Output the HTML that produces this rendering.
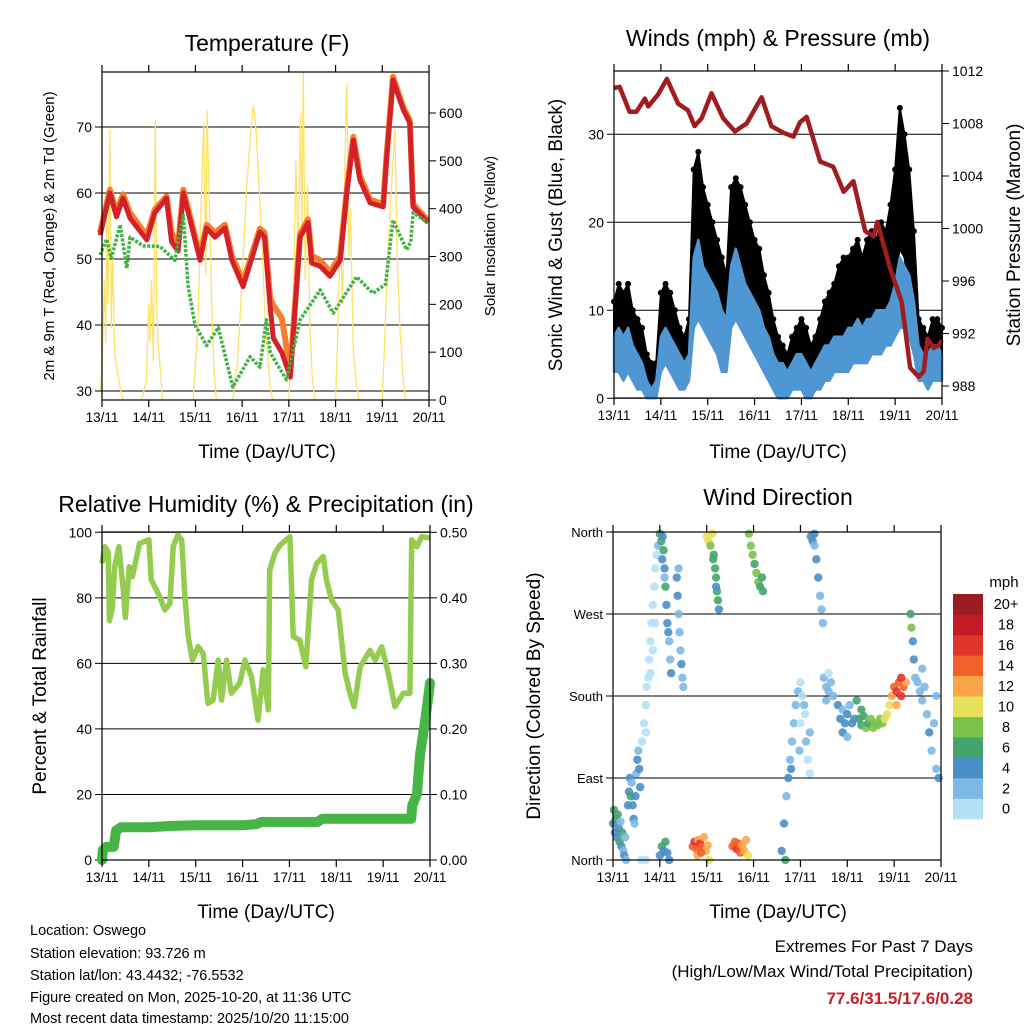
<!DOCTYPE html>
<html><head><meta charset="utf-8"><title>Station Meteogram</title>
<style>
html,body{margin:0;padding:0;background:#fff;}
svg{display:block;font-family:"Liberation Sans",Arial,sans-serif;}
</style></head>
<body>
<svg id="chart" width="1024" height="1024" viewBox="0 0 1024 1024" xmlns="http://www.w3.org/2000/svg">
<rect x="0" y="0" width="1024" height="1024" fill="#fff"/>
<!-- titles -->
<text x="267" y="51" font-size="23" text-anchor="middle">Temperature (F)</text>
<text x="778" y="46" font-size="23" text-anchor="middle">Winds (mph) &amp; Pressure (mb)</text>
<text x="266" y="512" font-size="23" text-anchor="middle">Relative Humidity (%) &amp; Precipitation (in)</text>
<text x="778" y="505" font-size="23" text-anchor="middle">Wind Direction</text>
<!-- axis titles -->
<text transform="translate(54,236) rotate(-90)" font-size="15" text-anchor="middle">2m &amp; 9m T (Red, Orange) &amp; 2m Td (Green)</text>
<text transform="translate(495,236) rotate(-90)" font-size="15" text-anchor="middle">Solar Insolation (Yellow)</text>
<text transform="translate(562,235) rotate(-90)" font-size="19" text-anchor="middle">Sonic Wind &amp; Gust (Blue, Black)</text>
<text transform="translate(1020,235) rotate(-90)" font-size="19" text-anchor="middle">Station Pressure (Maroon)</text>
<text transform="translate(46,696) rotate(-90)" font-size="19" text-anchor="middle">Percent &amp; Total Rainfall</text>
<text transform="translate(540,696) rotate(-90)" font-size="19" text-anchor="middle">Direction (Colored By Speed)</text>
<text x="267" y="458" font-size="19" text-anchor="middle">Time (Day/UTC)</text>
<text x="778" y="458" font-size="19" text-anchor="middle">Time (Day/UTC)</text>
<text x="266" y="918" font-size="19" text-anchor="middle">Time (Day/UTC)</text>
<text x="778" y="918" font-size="19" text-anchor="middle">Time (Day/UTC)</text>
<!-- footer -->
<g font-size="14.5">
<text x="30" y="935">Location: Oswego</text>
<text x="30" y="958">Station elevation: 93.726 m</text>
<text x="30" y="980">Station lat/lon: 43.4432; -76.5532</text>
<text x="30" y="1002">Figure created on Mon, 2025-10-20, at 11:36 UTC</text>
<text x="30" y="1023">Most recent data timestamp: 2025/10/20 11:15:00</text>
</g>
<text x="973" y="952" font-size="17" text-anchor="end">Extremes For Past 7 Days</text>
<text x="973" y="977" font-size="17" text-anchor="end">(High/Low/Max Wind/Total Precipitation)</text>
<text x="973" y="1004" font-size="17" font-weight="bold" fill="#c8202a" text-anchor="end">77.6/31.5/17.6/0.28</text>
<text x="1004" y="587" font-size="15" text-anchor="middle">mph</text>
</svg>
<script>
// ---------- data ----------
const dayLabels = ["13/11","14/11","15/11","16/11","17/11","18/11","19/11","20/11"];
const tempTicks = [30,40,50,60,70];
const solarTicks = [0,100,200,300,400,500,600];
const windTicks = [0,10,20,30];
const pressTicks = [988,992,996,1000,1004,1008,1012];
const rhTicks = [0,20,40,60,80,100];
const rainTicks = ["0.00","0.10","0.20","0.30","0.40","0.50"];
const dirLabels = ["North","East","South","West","North"];
const speedLabels = ["0","2","4","6","8","10","12","14","16","18","20+"];
const speedColors = ["#b4e1f6","#7db9e4","#4a8ec6","#44a56c","#7cc24a","#e6e05a","#f9a74a","#f1622a","#e0352a","#c21b26","#9b1c20"];

const tempT = [12.96,13.17,13.31,13.45,13.6,13.96,14.13,14.38,14.49,14.63,14.74,15.1,15.24,15.42,15.63,15.78,16.02,16.38,16.48,16.6,16.67,16.85,17.03,17.24,17.41,17.49,17.67,17.88,18.1,18.24,18.38,18.52,18.74,19.02,19.09,19.23,19.45,19.59,19.66,19.98];
const temp2m = [53.6,60,56.4,59.2,56.2,52.9,57,59.2,52.6,51.2,60,49.8,54.7,53.3,54.7,49.8,45.8,54.1,53.3,42.7,38,35.8,32.1,53.3,55.5,49.4,48.9,47.4,49.8,60,68,62,58.5,57.9,65,77.1,72.6,70.6,57.9,55.5];
const temp9m = [54,60.5,57,59.8,57,53.5,57.5,59.5,54,52,60.5,50.5,55.2,54,55.2,50.5,46.5,54.6,54,44,43,41,33,53.8,56,50.5,49.8,48,50.5,60.5,68.5,62.6,59,58.3,65.5,77.6,73,71,58.3,55.8];
const dewT = [12.96,13.1,13.2,13.39,13.53,13.6,13.88,14.24,14.56,14.74,14.84,14.99,15.24,15.49,15.8,16.17,16.38,16.52,16.6,16.95,17.24,17.67,17.95,18.45,18.8,19.07,19.23,19.52,19.61,19.66,19.98];
const dewV = [50.6,53,50.1,55.2,48.6,53.3,52,51.9,49.8,56.6,46,40,36.9,39.6,30.6,35.2,33.6,40.8,35.8,31.7,40.8,45.3,41.8,47.3,44.8,46.2,55.9,51.4,52.6,57,55.5];
const solarT = [12.96,13.0,13.05,13.08,13.1,13.13,13.17,13.2,13.23,13.27,13.33,13.4,13.45,null,13.85,13.95,14.0,14.03,14.06,14.1,14.14,14.17,14.2,14.25,14.3,null,14.95,15.05,15.12,15.18,15.22,15.25,15.3,15.35,15.4,15.45,null,15.8,15.9,16.0,16.1,16.2,16.24,16.3,16.4,16.5,16.6,16.65,null,17.0,17.1,17.15,17.2,17.25,17.28,17.31,17.35,17.4,17.45,17.5,17.55,null,18.0,18.05,18.1,18.15,18.2,18.24,18.28,18.32,18.38,18.45,18.5,null,19.0,19.05,19.12,19.2,19.27,19.32,19.38,19.45,19.5];
const solarV = [20,60,250,120,380,200,565,150,300,100,60,20,0,null,0,40,200,120,250,80,585,200,120,60,0,null,0,150,400,580,260,606,400,200,60,0,null,0,80,250,450,580,617,560,380,150,30,0,null,0,200,500,300,600,350,687,250,450,150,50,0,null,0,150,350,200,500,660,300,400,100,30,0,null,0,120,300,450,565,300,150,40,0];

const windT = [];
for (let i = 0; i <= 70; i++) windT.push(13 + i / 10); // time grid (0.1 day steps)
const gustHi = [11,13,12,13,10,9,8,5,4,4,12,13,12,10,8,7,9,26,28,24,22,20,18,16,14,24,25,24,22,20,18,17,14,12,9,7,6,5,7,8,9,8,6,7,9,11,12,13,15,16,16,17,18,16,18,19,18,20,19,22,26,33,30,26,19,9,8,7,9,9,8];
const gustLo = [6,6,5,6,4,3,3,1,0,0,4,6,6,4,3,3,4,12,14,13,12,10,9,6,5,12,13,12,11,10,8,7,6,4,3,2,1,1,2,3,2,2,1,2,3,4,5,6,6,7,7,8,8,8,9,9,10,10,10,11,14,17,16,12,8,4,3,3,4,4,4];
const windHi = [7,8,7,8,6,5,4,2,1,2,7,8,7,6,5,4,5,16,18,15,14,13,12,10,9,15,17,15,13,12,11,10,8,7,5,4,4,3,4,5,5,4,3,4,5,6,6,7,7,7,8,8,9,8,9,9,10,10,10,11,13,16,15,14,11,6,5,5,6,6,5];
const windLo = [3,3,2,3,2,1,1,0,0,0,3,4,3,2,1,1,2,8,9,8,7,6,5,3,3,8,9,8,7,6,5,4,3,2,1,0,0,0,1,1,1,0,0,1,1,2,2,3,3,3,3,4,4,4,4,5,5,5,6,6,7,8,8,7,5,2,2,1,2,2,2];
const pressT = [13.0,13.12,13.33,13.48,13.66,13.73,13.94,14.13,14.37,14.58,14.72,14.87,15.08,15.33,15.58,15.83,16.15,16.36,16.61,16.83,16.97,17.11,17.4,17.68,17.9,18.11,18.36,18.54,18.62,18.89,19.14,19.32,19.5,19.61,19.69,19.82,19.93,20.0];
const pressV = [1010.7,1010.8,1008.9,1008.9,1009.9,1009.3,1010.2,1011.4,1009.5,1009.0,1007.8,1008.4,1010.3,1008.4,1007.4,1008,1010,1007.8,1007.3,1007,1008.1,1008.5,1005.1,1004.7,1002.8,1003.6,999.8,999.4,1000.5,997,994.4,989.4,988.7,989.1,991.6,990.9,991.1,991.5];

const rhT = [13.0,13.06,13.13,13.16,13.22,13.27,13.36,13.45,13.5,13.58,13.65,13.8,14.0,14.05,14.16,14.23,14.34,14.45,14.52,14.62,14.7,14.77,14.84,14.93,15.05,15.16,15.26,15.37,15.48,15.55,15.66,15.76,15.94,16.05,16.19,16.33,16.44,16.55,16.58,16.69,16.8,17.01,17.08,17.22,17.35,17.47,17.58,17.72,17.79,17.9,18.04,18.19,18.29,18.38,18.51,18.72,18.83,18.97,19.11,19.25,19.43,19.57,19.61,19.72,19.82,20.0];
const rhV = [90.5,95.6,94,73,77,89.5,95.6,83,74,89.5,86.5,96.6,97.7,85.5,82.4,80.4,76.3,78.3,95.6,99.2,97.7,80.4,68.2,61,65.1,63,47.8,48.8,61,48.8,61,50.9,54,61,56,42.7,58,45.8,88.5,93.6,96.1,98.7,68.2,67.1,59,85.5,90.5,92.6,85.5,79.3,76.3,57,50.9,46.8,59,64,61,65.1,57,46.8,50.9,50.9,97.7,95.6,98.7,98.2];
const rainT = [13.0,13.02,13.09,13.25,13.3,13.41,14.0,14.5,15.0,16.0,16.3,16.4,17.0,17.6,17.7,19.3,19.6,19.62,19.72,19.79,19.9,20.0];
const rainV = [0,0.015,0.02,0.02,0.045,0.05,0.05,0.052,0.053,0.053,0.055,0.058,0.058,0.058,0.063,0.063,0.063,0.083,0.1,0.163,0.214,0.27];

const dirT = [13.0,13.02,13.04,13.06,13.08,13.1,13.12,13.14,13.16,13.18,13.2,13.22,13.24,13.26,13.28,13.32,13.34,13.36,13.38,13.4,13.42,13.44,13.46,13.48,13.5,13.52,13.54,13.56,13.58,
13.62,13.66,13.7,13.72,13.75,13.77,13.8,13.82,13.85,13.88,13.9,13.93,13.96,13.7,13.8,13.85,13.9,13.6,13.7,
14.0,14.03,14.06,14.08,14.1,14.12,14.14,14.16,14.18,14.2,14.22,14.24,14.05,14.1,
14.38,14.4,14.42,14.44,14.46,14.48,14.5,14.36,14.4,
14.0,14.04,14.08,14.12,14.16,14.2,
14.7,14.74,14.78,14.82,14.86,14.9,14.94,14.98,15.02,14.8,14.88,15.05,
15.0,15.04,15.08,15.12,15.14,15.18,15.2,15.22,15.24,15.26,15.15,15.2,
15.55,15.6,15.64,15.68,15.72,15.76,15.8,15.84,15.88,
15.9,15.94,15.98,16.02,16.06,16.1,16.14,16.18,16.2,
16.6,16.65,16.7,16.74,16.78,16.82,16.86,16.9,16.95,16.68,16.8,
17.0,17.04,17.08,17.12,17.16,17.2,17.0,17.1,17.2,16.98,
17.22,17.26,17.3,17.34,17.38,17.42,17.45,17.48,17.3,
17.5,17.55,17.6,17.65,17.7,17.6,17.55,
17.8,17.85,17.9,17.95,18.0,18.05,18.1,18.15,17.9,18.0,18.2,
18.25,18.3,18.35,18.4,18.45,18.5,18.55,18.6,18.65,18.7,18.75,18.3,
18.8,18.85,18.9,18.95,19.0,19.05,19.1,19.15,19.2,19.25,19.05,19.15,
19.35,19.37,19.4,19.42,19.45,19.5,19.55,19.6,19.65,19.7,19.75,19.8,19.85,19.9,19.95,19.9,19.6];
const dirDeg = [40,55,30,45,25,50,35,20,42,15,30,10,5,25,0,60,75,90,70,85,60,45,40,70,95,110,120,100,80,
130,150,170,190,200,220,240,260,280,300,320,335,345,140,205,230,260,0,0,
358,350,355,340,320,300,280,260,250,240,220,205,330,310,
290,270,250,230,215,200,190,310,320,
5,15,10,20,8,0,
15,20,12,22,18,14,25,10,16,5,8,0,
355,350,345,358,330,320,310,295,285,275,335,300,
15,20,12,18,8,16,10,22,5,
358,345,335,325,315,305,300,310,295,
10,40,70,90,110,130,150,170,185,0,100,
150,180,170,130,110,140,195,160,95,120,
355,350,345,330,310,290,275,260,358,
200,190,185,195,180,205,175,
170,155,165,150,160,170,150,155,140,135,175,
155,148,158,145,150,155,145,150,148,155,150,165,
155,160,170,180,190,185,195,180,190,195,170,200,
270,255,240,220,200,195,185,210,190,160,140,120,150,100,90,180,175];
const dirSpd = [5,6,4,7,5,6,4,7,3,4,6,3,4,3,3,4,5,4,6,3,4,5,3,4,3,4,3,5,4,
1,1,0,1,1,0,1,0,1,1,0,1,2,1,0,1,1,1,0,
6,6,5,6,5,6,5,4,4,3,3,4,4,3,
4,3,3,3,4,3,3,4,3,
5,6,5,6,5,4,
14,17,15,13,16,15,12,13,12,12,14,10,
10,11,9,10,7,6,6,6,7,5,6,5,
14,15,16,14,15,13,12,13,11,
9,8,8,7,8,8,7,7,6,
5,4,3,4,3,3,2,2,2,6,4,
1,1,2,2,1,2,1,1,1,2,
4,4,3,4,4,3,3,3,4,
2,2,2,2,2,1,2,
4,4,3,4,4,3,5,4,4,3,6,
6,7,7,8,7,8,8,9,9,8,9,6,
10,10,11,12,14,16,15,17,14,13,13,16,
7,9,5,4,3,3,3,3,2,3,4,3,3,3,4,2,2];

// ---------- drawing ----------
const NS = "http://www.w3.org/2000/svg";
const svg = document.getElementById("chart");
function el(tag, attrs, parent) {
  const e = document.createElementNS(NS, tag);
  for (const k in attrs) e.setAttribute(k, attrs[k]);
  (parent || svg).appendChild(e);
  return e;
}
function lin(d0, d1, r0, r1) { return v => r0 + (v - d0) * (r1 - r0) / (d1 - d0); }
function pathFrom(xs, ys, fx, fy) {
  let d = "", pen = false;
  for (let i = 0; i < xs.length; i++) {
    if (xs[i] === null || ys[i] === null) { pen = false; continue; }
    d += (pen ? "L" : "M") + fx(xs[i]).toFixed(1) + "," + fy(ys[i]).toFixed(1);
    pen = true;
  }
  return d;
}

const P1 = {l:102, r:429, t:72, b:400};
const P2 = {l:614, r:942, t:71, b:398};
const P3 = {l:102, r:430, t:532, b:860};
const P4 = {l:613, r:941, t:532, b:860};

const x1 = lin(13, 20, P1.l, P1.r);
const yT = lin(30, 70, 391, 127);
const yS = lin(0, 600, 400, 113);
const x2 = lin(13, 20, P2.l, P2.r);
const yW = lin(0, 30, 398.3, 134.3);
const yP = lin(988, 1012, 386, 71);
const x3 = lin(13, 20, P3.l, P3.r);
const yRH = lin(0, 100, 860, 532.3);
const yRain = lin(0, 0.5, 860, 532.3);
const x4 = lin(13, 20, P4.l, P4.r);
const yD = lin(0, 360, 860, 532);

function frame(P, name) {
  const g = el("g", {});
  
  
  const r = el("rect", {x:P.l, y:P.t, width:P.r-P.l, height:P.b-P.t, fill:"none", stroke:"#000", "stroke-width":1.2}, g);
  
  
  return g;
}
function xAxis(P, fx, name) {
  const g = el("g", {});
  
  
  dayLabels.forEach((lab, i) => {
    const x = fx(13 + i);
    el("line", {x1:x, x2:x, y1:P.b, y2:P.b+7, stroke:"#000", "stroke-width":1.2}, g);
    el("line", {x1:x, x2:x, y1:P.t, y2:P.t-7, stroke:"#000", "stroke-width":1.2}, g);
    const t = el("text", {x:x, y:P.b+22, "font-size":13.5, "text-anchor":"middle"}, g);
    t.textContent = lab;
    
    
  });
}
function hGrid(P, ys, g) {
  ys.forEach(y => el("line", {x1:P.l-7, x2:P.r, y1:y, y2:y, stroke:"#000", "stroke-width":1}, g));
}
function leftTicks(P, vals, fy, labels, g, fs) {
  vals.forEach((v, i) => {
    const t = el("text", {x:P.l-10, y:fy(v)+5, "font-size":fs||14, "text-anchor":"end"}, g);
    t.textContent = labels ? labels[i] : v;
    
    
  });
}
function rightTicks(P, vals, fy, labels, g, fs) {
  vals.forEach((v, i) => {
    const y = fy(v);
    el("line", {x1:P.r, x2:P.r+7, y1:y, y2:y, stroke:"#000", "stroke-width":1}, g);
    const t = el("text", {x:P.r+10, y:y+5, "font-size":fs||14, "text-anchor":"start"}, g);
    t.textContent = labels ? labels[i] : v;
    
    
  });
}

// ===== Panel 1 =====
{
  const g = el("g", {});
  
  
  hGrid(P1, tempTicks.map(yT), g);
  leftTicks(P1, tempTicks, yT, null, g, 14);
  rightTicks(P1, solarTicks, yS, null, g, 14);
  const s = el("path", {d:pathFrom(solarT, solarV, x1, yS), fill:"none", stroke:"#fde26a", "stroke-width":1.3}, g);
  
  
  const o = el("path", {d:pathFrom(tempT, temp9m, x1, yT), fill:"none", stroke:"#f47f2f", "stroke-width":6, "stroke-linejoin":"round"}, g);
  
  
  const r = el("path", {d:pathFrom(tempT, temp2m, x1, yT), fill:"none", stroke:"#d42027", "stroke-width":5, "stroke-linejoin":"round"}, g);
  
  
  const d = el("path", {d:pathFrom(dewT, dewV, x1, yT), fill:"none", stroke:"#44b046", "stroke-width":3.5, "stroke-dasharray":"3,1.5", "stroke-linejoin":"round"}, g);
  
  
  frame(P1, 'temperature');
  xAxis(P1, x1, 'temperature');
}

// ===== Panel 2 =====
{
  const g = el("g", {});
  
  
  hGrid(P2, windTicks.map(yW), g);
  leftTicks(P2, windTicks, yW, null, g, 14);
  rightTicks(P2, pressTicks, yP, null, g, 14);
  let d = pathFrom(windT, gustHi, x2, yW);
  for (let i = windT.length - 1; i >= 0; i--) d += "L" + x2(windT[i]).toFixed(1) + "," + yW(gustLo[i]).toFixed(1);
  const gb = el("path", {d:d + "Z", fill:"#000", stroke:"#000", "stroke-width":2, "stroke-linejoin":"round"}, g);
  
  
  for (let i = 0; i < windT.length; i++) {
    const c = el("circle", {cx:x2(windT[i]), cy:yW(gustHi[i]), r:3}, g);
    
    
  }
  let w = pathFrom(windT, windHi, x2, yW);
  for (let i = windT.length - 1; i >= 0; i--) w += "L" + x2(windT[i]).toFixed(1) + "," + yW(windLo[i]).toFixed(1);
  const wb = el("path", {d:w + "Z", fill:"#4f97d2", stroke:"#4f97d2", "stroke-width":2.5, "stroke-linejoin":"round"}, g);
  
  
  const p = el("path", {d:pathFrom(pressT, pressV, x2, yP), fill:"none", stroke:"#a01c1e", "stroke-width":4.5, "stroke-linejoin":"round"}, g);
  
  
  frame(P2, 'winds');
  xAxis(P2, x2, 'winds');
}

// ===== Panel 3 =====
{
  const g = el("g", {});
  
  
  hGrid(P3, rhTicks.map(yRH), g);
  leftTicks(P3, rhTicks, yRH, null, g, 14);
  rightTicks(P3, rainTicks.map(Number), yRain, rainTicks, g, 14);
  const rh = el("path", {d:pathFrom(rhT, rhV, x3, yRH), fill:"none", stroke:"#93cc4e", "stroke-width":5.5, "stroke-linejoin":"round"}, g);
  
  
  const rn = el("path", {d:pathFrom(rainT, rainV, x3, yRain), fill:"none", stroke:"#46b447", "stroke-width":10, "stroke-linejoin":"round", "stroke-linecap":"round"}, g);
  
  
  frame(P3, 'humidity');
  xAxis(P3, x3, 'humidity');
}

// ===== Panel 4 =====
{
  const g = el("g", {});
  
  
  const dirVals = [0, 90, 180, 270, 360];
  hGrid(P4, dirVals.map(yD), g);
  leftTicks(P4, dirVals, yD, dirLabels, g, 13);
  for (let i = 0; i < dirT.length; i++) {
    const bin = Math.max(0, Math.min(10, Math.floor(dirSpd[i] / 2)));
    const c = el("circle", {cx:x4(dirT[i]), cy:yD(dirDeg[i]), r:4.2, fill:speedColors[bin], "fill-opacity":0.9}, g);
    
    
  }
  frame(P4, 'wind-direction');
  xAxis(P4, x4, 'wind-direction');
  const cb = el("g", {});
  
  
  const top = 594, bh = 20.45;
  speedLabels.forEach((lab, i) => {
    const y = top + (10 - i) * bh;
    const r = el("rect", {x:953, y:y, width:30, height:bh + 0.3, fill:speedColors[i]}, cb);
    
    
    const t = el("text", {x:1006, y:y + bh/2 + 5, "font-size":14.5, "text-anchor":"middle"}, cb);
    t.textContent = lab;
    
    
  });
}
</script>
</body></html>
